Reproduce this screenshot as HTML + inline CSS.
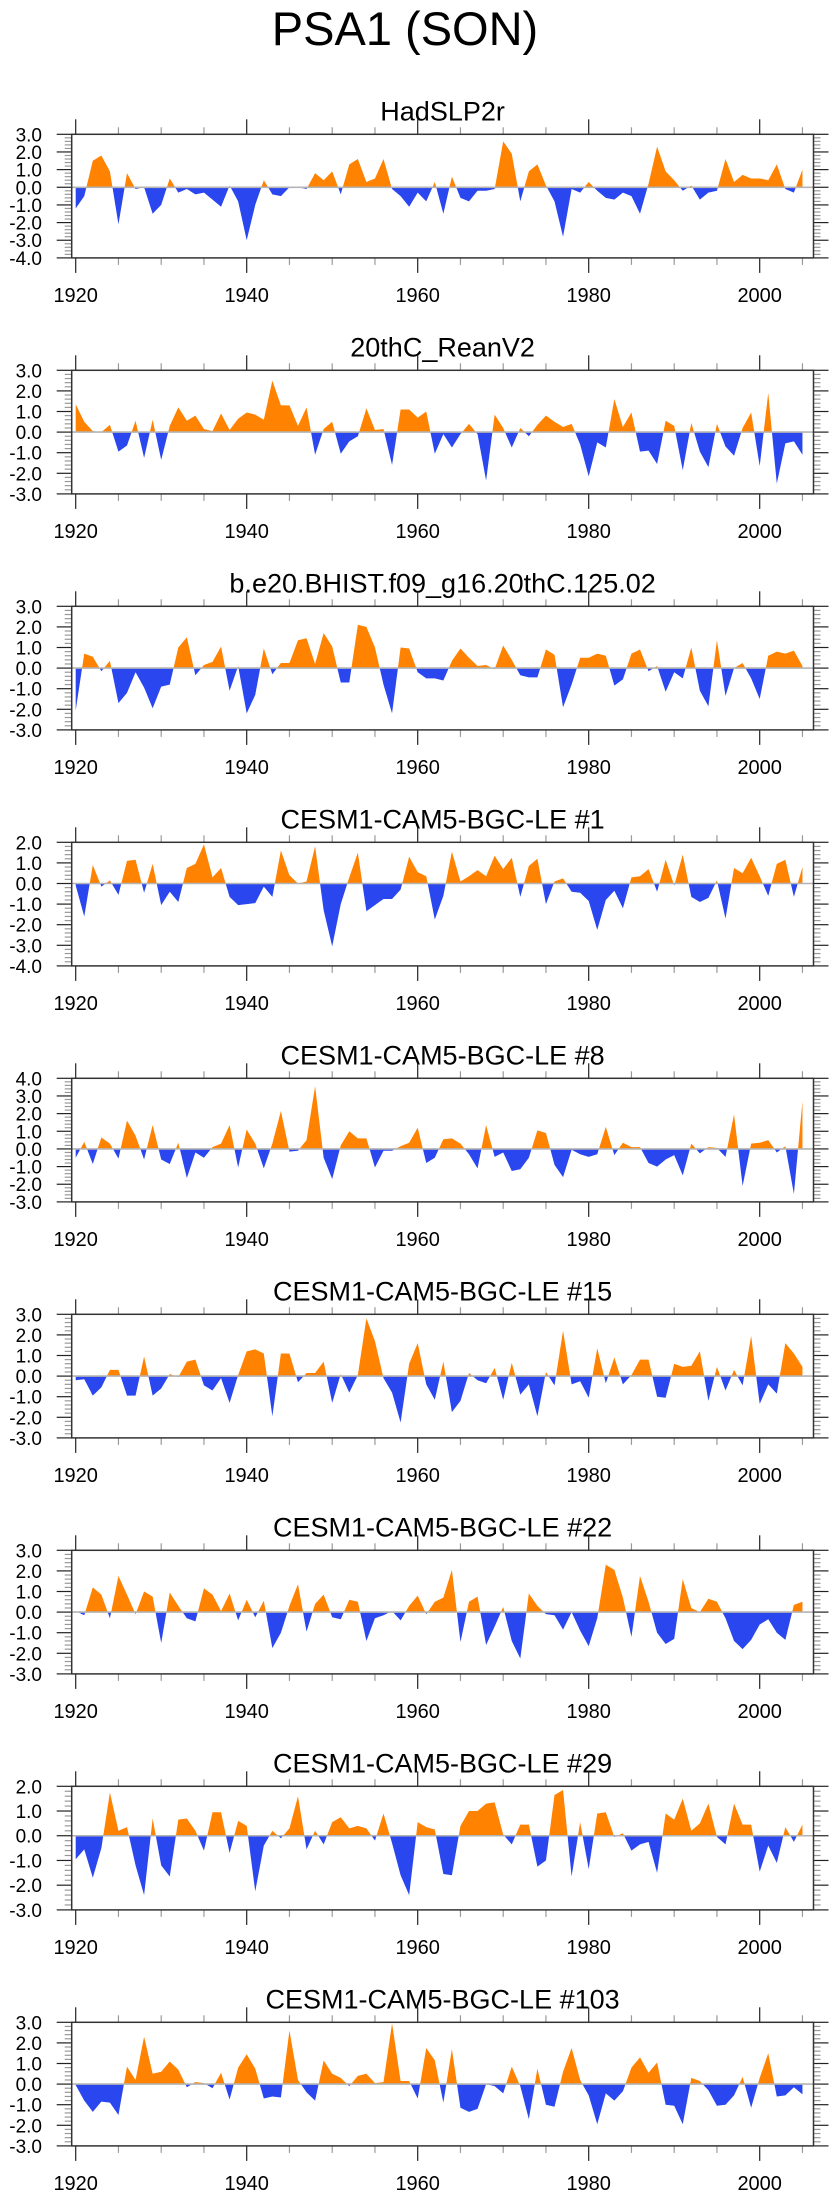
<!DOCTYPE html>
<html><head><meta charset="utf-8"><style>
html,body{margin:0;padding:0;background:#fff;}
svg{display:block;font-family:"Liberation Sans",sans-serif;}
</style></head><body>
<svg id="chart" width="840" height="2200" viewBox="0 0 840 2200" xmlns="http://www.w3.org/2000/svg">
<text x="405" y="45" font-size="47" text-anchor="middle">PSA1 (SON)</text>
</svg>
<script>
const years = [];
for (let y = 1920; y <= 2005; y++) years.push(y);
const panelTitles = ["HadSLP2r","20thC_ReanV2","b.e20.BHIST.f09_g16.20thC.125.02","CESM1-CAM5-BGC-LE #1","CESM1-CAM5-BGC-LE #8","CESM1-CAM5-BGC-LE #15","CESM1-CAM5-BGC-LE #22","CESM1-CAM5-BGC-LE #29","CESM1-CAM5-BGC-LE #103"];
const yMins = [-4,-3,-3,-4,-3,-3,-3,-3,-3];
const yMaxs = [3,3,3,2,4,3,3,2,3];
const xTickLabels = [1920,1940,1960,1980,2000];
const s1 = [-1.2,-0.5,1.5,1.8,0.9,-2.1,0.8,-0.1,0.0,-1.5,-1.0,0.5,-0.3,-0.1,-0.4,-0.3,-0.7,-1.1,0.1,-0.8,-3.0,-1.0,0.4,-0.4,-0.5,0.0,0.0,-0.1,0.8,0.4,0.9,-0.4,1.3,1.6,0.3,0.5,1.6,-0.1,-0.5,-1.1,-0.3,-0.8,0.3,-1.5,0.6,-0.6,-0.8,-0.2,-0.2,-0.1,2.6,1.9,-0.8,0.9,1.3,0.1,-0.8,-2.8,-0.1,-0.3,0.3,-0.2,-0.6,-0.7,-0.3,-0.5,-1.5,0.2,2.3,0.9,0.4,-0.2,0.1,-0.7,-0.3,-0.2,1.6,0.3,0.7,0.5,0.5,0.4,1.3,-0.1,-0.3,1.0];
const s2 = [1.35,0.5,0.05,0.0,0.35,-0.95,-0.65,0.55,-1.25,0.6,-1.35,0.3,1.2,0.55,0.8,0.15,0.05,0.9,0.1,0.65,0.95,0.85,0.6,2.5,1.3,1.3,0.3,1.2,-1.1,0.15,0.5,-1.05,-0.45,-0.2,1.15,0.1,0.15,-1.6,1.1,1.1,0.7,1.0,-1.05,-0.1,-0.75,-0.1,0.4,-0.1,-2.35,0.85,0.2,-0.75,0.2,-0.2,0.35,0.8,0.5,0.25,0.4,-0.6,-2.15,-0.5,-0.75,1.6,0.25,0.95,-0.95,-0.9,-1.55,0.55,0.3,-1.85,0.45,-0.95,-1.7,0.4,-0.7,-1.15,0.2,0.95,-1.65,1.9,-2.5,-0.55,-0.45,-1.1];
const s3 = [-2.05,0.7,0.55,-0.15,0.35,-1.7,-1.2,-0.2,-0.95,-1.95,-0.9,-0.8,1.0,1.5,-0.35,0.15,0.3,1.05,-1.1,0.1,-2.2,-1.3,0.95,-0.3,0.25,0.25,1.35,1.45,0.2,1.7,1.05,-0.7,-0.7,2.1,2.0,1.0,-0.8,-2.2,1.0,0.95,-0.2,-0.5,-0.5,-0.6,0.35,0.95,0.5,0.1,0.15,-0.05,1.1,0.4,-0.35,-0.45,-0.45,0.9,0.65,-1.9,-0.8,0.5,0.5,0.7,0.6,-0.85,-0.55,0.7,0.9,-0.15,0.1,-1.15,-0.2,-0.5,1.0,-1.1,-1.85,1.35,-1.35,0.0,0.25,-0.5,-1.5,0.6,0.8,0.7,0.85,0.1];
const s4 = [-0.1,-1.6,0.9,-0.15,0.15,-0.55,1.1,1.15,-0.45,0.95,-1.05,-0.4,-0.9,0.75,0.95,1.9,0.3,0.75,-0.65,-1.05,-1.0,-0.95,-0.15,-0.65,1.6,0.4,0.0,0.1,1.8,-1.3,-3.05,-1.0,0.3,1.5,-1.35,-1.05,-0.75,-0.75,-0.3,1.3,0.55,0.35,-1.75,-0.6,1.55,0.1,0.35,0.65,0.35,1.35,0.7,1.25,-0.65,0.85,1.2,-1.0,0.1,0.25,-0.4,-0.45,-0.85,-2.25,-0.8,-0.35,-1.2,0.3,0.35,0.7,-0.4,1.15,-0.1,1.4,-0.65,-0.9,-0.7,0.15,-1.7,0.75,0.5,1.25,0.35,-0.6,0.95,1.15,-0.65,0.8];
const s5 = [-0.5,0.4,-0.85,0.65,0.3,-0.55,1.6,0.75,-0.6,1.35,-0.6,-0.85,0.35,-1.65,-0.2,-0.5,0.1,0.3,1.35,-1.05,1.1,0.3,-1.1,0.3,2.15,-0.15,-0.1,0.5,3.55,-0.5,-1.7,0.2,1.0,0.6,0.6,-1.05,-0.1,-0.1,0.15,0.35,1.2,-0.8,-0.5,0.55,0.6,0.3,-0.3,-1.1,1.35,-0.45,-0.2,-1.25,-1.15,-0.5,1.05,0.9,-0.9,-1.6,-0.05,-0.3,-0.45,-0.3,1.25,-0.35,0.35,0.1,0.1,-0.8,-1.0,-0.6,-0.35,-1.5,0.3,-0.25,0.1,0.05,-0.45,1.95,-2.1,0.3,0.35,0.5,-0.2,0.15,-2.55,2.7];
const s6 = [-0.2,-0.15,-0.95,-0.55,0.3,0.3,-0.95,-0.95,0.95,-0.95,-0.6,0.1,-0.05,0.7,0.8,-0.45,-0.7,-0.1,-1.3,0.05,1.2,1.3,1.1,-1.95,1.1,1.1,-0.3,0.15,0.15,0.7,-1.3,0.1,-0.8,0.05,2.8,1.7,-0.1,-0.8,-2.25,0.6,1.6,-0.4,-1.15,0.7,-1.75,-1.2,0.15,-0.2,-0.35,0.4,-1.15,0.65,-0.9,-0.4,-1.95,0.2,-0.45,2.2,-0.4,-0.25,-1.05,1.35,-0.35,0.9,-0.4,0.05,0.8,0.8,-1.0,-1.05,0.6,0.45,0.5,1.2,-1.2,0.45,-0.7,0.3,-0.45,1.95,-1.35,-0.4,-0.85,1.6,1.1,0.45];
const s7 = [0.05,-0.15,1.2,0.85,-0.3,1.75,0.85,-0.1,1.0,0.75,-1.5,0.95,0.3,-0.3,-0.45,1.15,0.85,0.05,0.9,-0.4,0.6,-0.25,0.55,-1.75,-1.0,0.3,1.35,-0.95,0.4,0.85,-0.25,-0.35,0.6,0.5,-1.4,-0.3,-0.15,0.05,-0.4,0.3,0.8,-0.1,0.5,0.7,2.05,-1.45,0.5,0.75,-1.6,-0.7,0.25,-1.4,-2.25,0.9,0.3,-0.1,-0.15,-0.85,0.0,-0.9,-1.65,-0.3,2.3,2.05,0.7,-1.2,1.75,0.5,-1.0,-1.55,-1.3,1.6,0.2,0.0,0.65,0.5,-0.3,-1.4,-1.8,-1.35,-0.6,-0.35,-1.0,-1.35,0.35,0.5];
const s8 = [-0.95,-0.55,-1.7,-0.5,1.75,0.2,0.35,-1.2,-2.4,0.7,-1.2,-1.65,0.65,0.7,0.2,-0.6,0.95,0.95,-0.7,0.6,0.4,-2.25,-0.4,0.2,-0.1,0.3,1.6,-0.55,0.2,-0.35,0.55,0.75,0.3,0.4,0.3,-0.2,0.9,-0.3,-1.6,-2.4,0.55,0.35,0.25,-1.55,-1.6,0.4,1.0,1.0,1.3,1.35,0.05,-0.35,0.45,0.45,-1.25,-1.0,1.65,1.85,-1.65,0.55,-1.35,0.9,0.95,-0.05,0.1,-0.6,-0.35,-0.25,-1.5,0.9,0.65,1.5,0.2,0.5,1.3,-0.05,-0.35,1.3,0.45,0.45,-1.45,-0.4,-1.1,0.35,-0.25,0.45];
const s9 = [-0.05,-0.8,-1.35,-0.85,-0.9,-1.5,0.85,0.2,2.3,0.5,0.6,1.1,0.7,-0.15,0.1,0.05,-0.2,0.55,-0.75,0.8,1.45,0.75,-0.7,-0.6,-0.65,2.6,0.2,-0.4,-0.8,1.15,0.5,0.3,-0.1,0.4,0.5,0.05,0.1,2.95,0.15,0.15,-0.7,1.75,1.15,-0.9,1.7,-1.15,-1.35,-1.2,0.0,-0.1,-0.45,0.85,-0.1,-1.7,0.75,-1.0,-1.1,0.6,1.75,0.2,-0.55,-1.95,-0.45,-0.8,-0.35,0.8,1.3,0.55,1.05,-1.0,-1.05,-1.95,0.3,0.15,-0.3,-1.05,-1.0,-0.55,0.35,-1.15,0.3,1.5,-0.6,-0.55,-0.15,-0.5];
const allSeries = [s1,s2,s3,s4,s5,s6,s7,s8,s9];

const NS = "http://www.w3.org/2000/svg";
const svg = document.getElementById("chart");
const BOX_L = 71.7, BOX_R = 813.5, BOX_H = 123.6, TOP0 = 134.3, STEP = 236;
function xScale(yr){ return 75.7 + (yr - 1920) * 8.55; }
function mk(tag, attrs, parent){ const e = document.createElementNS(NS, tag); for (const k in attrs) e.setAttribute(k, attrs[k]); parent.appendChild(e); return e; }

allSeries.forEach(function(vals, p){
  const top = TOP0 + STEP * p, bot = top + BOX_H;
  const ymin = yMins[p], ymax = yMaxs[p];
  const yScale = function(v){ return bot - (v - ymin) / (ymax - ymin) * BOX_H; };
  const g = mk("g", {}, svg);
  
  
  const t = mk("text", {x: 442.6, y: top - 14, "font-size": 27, "text-anchor": "middle"}, g);
  t.textContent = panelTitles[p];
  
  
  const pts = [];
  for (let i = 0; i < vals.length; i++) {
    const x = xScale(years[i]), v = vals[i];
    if (i > 0) {
      const pv = vals[i-1];
      if ((pv > 0 && v < 0) || (pv < 0 && v > 0)) {
        const f = pv / (pv - v);
        pts.push([xScale(years[i-1]) + f * (x - xScale(years[i-1])), 0]);
      }
    }
    pts.push([x, v]);
  }
  const y0 = yScale(0);
  function poly(sign){
    let d = "M" + pts[0][0].toFixed(2) + "," + y0.toFixed(2);
    pts.forEach(function(q){ const v = sign > 0 ? Math.max(q[1], 0) : Math.min(q[1], 0); d += " L" + q[0].toFixed(2) + "," + yScale(v).toFixed(2); });
    d += " L" + pts[pts.length-1][0].toFixed(2) + "," + y0.toFixed(2) + " Z";
    return d;
  }
  const pos = mk("path", {d: poly(1), fill: "#ff8200"}, g);
  
  
  const neg = mk("path", {d: poly(-1), fill: "#2a46ee"}, g);
  
  
  const zl = mk("line", {x1: BOX_L, x2: BOX_R, y1: y0, y2: y0, stroke: "#b4b4b4", "stroke-width": 1.6}, g);
  
  
  for (let v = ymin; v <= ymax + 1e-6; v += 0.2) {
    const yy = yScale(v);
    const major = Math.abs(v - Math.round(v)) < 1e-6;
    const len = major ? 15 : 7;
    mk("line", {x1: BOX_L - len, x2: BOX_L, y1: yy, y2: yy, stroke: major ? "#222" : "#999", "stroke-width": 1.2}, g);
    mk("line", {x1: BOX_R, x2: BOX_R + len, y1: yy, y2: yy, stroke: major ? "#222" : "#999", "stroke-width": 1.2}, g);
    if (major) {
      const lb = mk("text", {x: 42, y: yy + 7, "font-size": 19, "text-anchor": "end"}, g);
      lb.textContent = Math.round(v).toFixed(1);
      
      
    }
  }
  for (let yr = 1920; yr <= 2005; yr += 5) {
    const xx = xScale(yr);
    const major = (yr % 20 === 0);
    const len = major ? 15 : 7;
    mk("line", {x1: xx, x2: xx, y1: bot, y2: bot + len, stroke: major ? "#222" : "#999", "stroke-width": 1.2}, g);
    mk("line", {x1: xx, x2: xx, y1: top - len, y2: top, stroke: major ? "#222" : "#999", "stroke-width": 1.2}, g);
  }
  xTickLabels.forEach(function(yr){
    const lb = mk("text", {x: xScale(yr), y: bot + 44, "font-size": 20, "text-anchor": "middle"}, g);
    lb.textContent = yr;
    
    
  });
  const box = mk("rect", {x: BOX_L, y: top, width: BOX_R - BOX_L, height: BOX_H, fill: "none", stroke: "#333", "stroke-width": 1.5}, g);
  
  
});
</script>
</body></html>
